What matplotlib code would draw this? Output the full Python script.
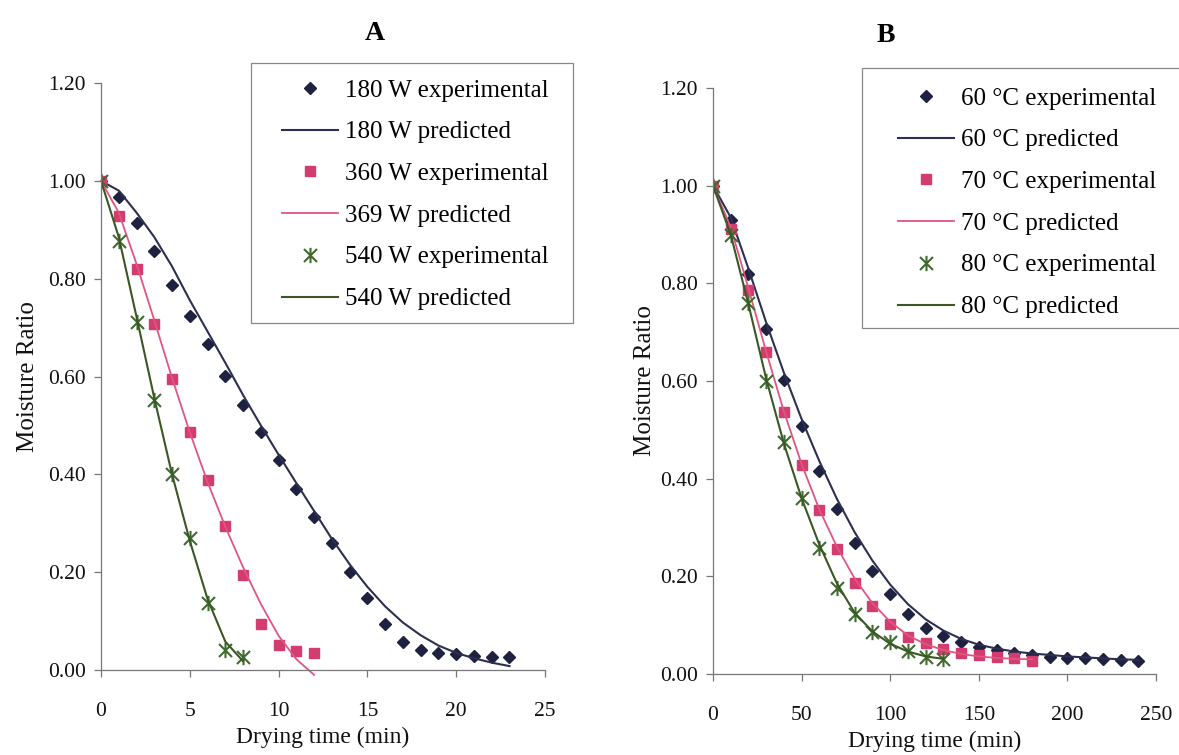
import matplotlib
matplotlib.use('Agg')
import matplotlib.pyplot as plt
from matplotlib.patches import Rectangle
from matplotlib.path import Path

plt.rcParams['font.family'] = ['Liberation Serif', 'DejaVu Serif']

# panel A: microwave drying (min)
t_180 = list(range(0, 24))
mr_180_exp = [1.000, 0.967, 0.914, 0.857, 0.787, 0.724, 0.667, 0.602, 0.541, 0.486, 0.429, 0.371,
              0.313, 0.259, 0.201, 0.148, 0.095, 0.058, 0.041, 0.035, 0.033, 0.029, 0.027, 0.026]
mr_180_pred = [1.000, 0.980, 0.935, 0.885, 0.825, 0.756, 0.692, 0.628, 0.562, 0.500, 0.440, 0.382,
               0.325, 0.268, 0.216, 0.170, 0.130, 0.097, 0.071, 0.050, 0.035, 0.024, 0.015, 0.008]

t_360 = list(range(0, 13))
mr_360_exp = [1.000, 0.929, 0.820, 0.707, 0.595, 0.486, 0.388, 0.294, 0.194, 0.095, 0.052, 0.039, 0.034]
mr_360_pred = [1.000, 0.935, 0.830, 0.715, 0.597, 0.486, 0.384, 0.293, 0.210, 0.135, 0.070, 0.022, -0.010]

t_540 = list(range(0, 9))
mr_540_exp = [1.000, 0.878, 0.711, 0.552, 0.401, 0.269, 0.136, 0.041, 0.027]
mr_540_pred = [1.000, 0.885, 0.722, 0.556, 0.400, 0.264, 0.145, 0.058, 0.018]

# panel B: hot air drying (min)
t_60 = list(range(0, 250, 10))
mr_60_exp = [1.000, 0.929, 0.820, 0.707, 0.602, 0.507, 0.415, 0.337, 0.269, 0.211, 0.163, 0.122, 0.095,
             0.078, 0.065, 0.056, 0.049, 0.043, 0.039, 0.034, 0.032, 0.032, 0.031, 0.029, 0.027]
mr_60_pred = [1.000, 0.935, 0.830, 0.720, 0.617, 0.522, 0.436, 0.358, 0.290, 0.232, 0.183, 0.143, 0.112,
              0.089, 0.072, 0.060, 0.052, 0.046, 0.042, 0.039, 0.036, 0.034, 0.032, 0.030, 0.029]

t_70 = list(range(0, 190, 10))
mr_70_exp = [1.000, 0.912, 0.786, 0.660, 0.537, 0.429, 0.335, 0.255, 0.187, 0.139, 0.103, 0.075,
             0.063, 0.051, 0.044, 0.039, 0.035, 0.033, 0.027]
mr_70_pred = [1.000, 0.915, 0.790, 0.660, 0.538, 0.430, 0.337, 0.260, 0.195, 0.145, 0.107, 0.079,
              0.061, 0.049, 0.041, 0.036, 0.033, 0.031, 0.030]

t_80 = list(range(0, 140, 10))
mr_80_exp = [1.000, 0.898, 0.759, 0.601, 0.476, 0.361, 0.259, 0.177, 0.122, 0.085, 0.065, 0.048, 0.034, 0.031]
mr_80_pred = [1.000, 0.900, 0.757, 0.605, 0.472, 0.360, 0.265, 0.185, 0.125, 0.087, 0.062, 0.046, 0.036, 0.031]

y_ticks = [0.0, 0.2, 0.4, 0.6, 0.8, 1.0, 1.2]

navy_m = '#1e2240'
navy_l = '#2c2f52'
pink_m = '#d23c6e'
pink_l = '#e2557f'
green_m = '#3f6a30'
green_l = '#3a5726'

# excel style asterisk: an x with a vertical bar through it
star = Path([(0, -1), (0, 1), (-0.85, -0.85), (0.85, 0.85), (-0.85, 0.85), (0.85, -0.85)],
            [Path.MOVETO, Path.LINETO, Path.MOVETO, Path.LINETO, Path.MOVETO, Path.LINETO])

W, H = 1179, 755
fig = plt.figure(figsize=(W / 100, H / 100), dpi=100)
axA = fig.add_axes([101 / W, 1 - 670 / H, 444 / W, 587 / H])
axB = fig.add_axes([713 / W, 1 - 674 / H, 443 / W, 586 / H])


def style(ax, xmax, xstep):
    ax.set_xlim(0, xmax)
    ax.set_ylim(0, 1.2)
    ax.set_xticks(range(0, xmax + 1, xstep))
    ax.set_yticks(y_ticks)
    ax.set_yticklabels(['%.2f' % v for v in y_ticks])
    ax.set_facecolor('none')
    ax.set_zorder(1)
    for s in ['top', 'right']:
        ax.spines[s].set_visible(False)
    for s in ['left', 'bottom']:
        ax.spines[s].set_color('#777777')
        ax.spines[s].set_linewidth(0.9)
    ax.tick_params(axis='both', direction='out', length=5, width=0.9, color='#777777',
                   labelsize=15.5, labelcolor='#111111')
    ax.tick_params(axis='y', pad=6)
    ax.tick_params(axis='x', pad=18)
    ax.set_ylabel('Moisture Ratio', fontsize=18, color='#111111')
    ax.set_xlabel('Drying time (min)', fontsize=17, color='#111111')


# panel A
axA.plot(t_180, mr_180_exp, linestyle='none', marker='D', ms=6.5, color=navy_m, label='180 W experimental')
axA.plot(t_180, mr_180_pred, color=navy_l, lw=1.5, label='180 W predicted')
axA.plot(t_360, mr_360_exp, linestyle='none', marker='s', ms=7.5, color=pink_m, label='360 W experimental')
axA.plot(t_360, mr_360_pred, color=pink_l, lw=1.3, clip_on=False, label='369 W predicted')
axA.plot(t_540, mr_540_exp, linestyle='none', marker=star, ms=11, mew=1.5, color=green_m,
         label='540 W experimental')
axA.plot(t_540, mr_540_pred, color=green_l, lw=1.5, label='540 W predicted')
style(axA, 25, 5)
axA.yaxis.set_label_coords(-0.14, 0.5)

# panel B
axB.plot(t_60, mr_60_exp, linestyle='none', marker='D', ms=6.5, color=navy_m, label='60 °C experimental')
axB.plot(t_60, mr_60_pred, color=navy_l, lw=1.5, label='60 °C predicted')
axB.plot(t_70, mr_70_exp, linestyle='none', marker='s', ms=7.5, color=pink_m, label='70 °C experimental')
axB.plot(t_70, mr_70_pred, color=pink_l, lw=1.3, label='70 °C predicted')
axB.plot(t_80, mr_80_exp, linestyle='none', marker=star, ms=11, mew=1.5, color=green_m,
         label='80 °C experimental')
axB.plot(t_80, mr_80_pred, color=green_l, lw=1.5, label='80 °C predicted')
style(axB, 250, 50)
axB.yaxis.set_label_coords(-0.128, 0.5)

# legends: frame drawn separately (behind the axes) so the padding can match
for ax, box, anchor in [(axA, (251, 63, 573, 323), (282, 79)),
                        (axB, (862, 68, 1190, 328), (898, 87))]:
    leg = ax.legend(loc='upper left', bbox_to_anchor=(anchor[0] / W, 1 - anchor[1] / H),
                    bbox_transform=fig.transFigure, frameon=False, fontsize=18,
                    borderpad=0, handlelength=2.25, handletextpad=0.28, labelspacing=0.77,
                    borderaxespad=0)
    x0, y0, x1, y1 = box
    fig.patches.append(Rectangle((x0 / W, 1 - y1 / H), (x1 - x0) / W, (y1 - y0) / H,
                                 transform=fig.transFigure, fill=True, facecolor='white',
                                 edgecolor='#888888', lw=0.9, zorder=0.5))

fig.text(375 / W, 1 - 34 / H, 'A', fontsize=20, fontweight='bold', ha='center', va='center')
fig.text(886 / W, 1 - 36 / H, 'B', fontsize=20, fontweight='bold', ha='center', va='center')

fig.savefig('out.png', dpi=100)
